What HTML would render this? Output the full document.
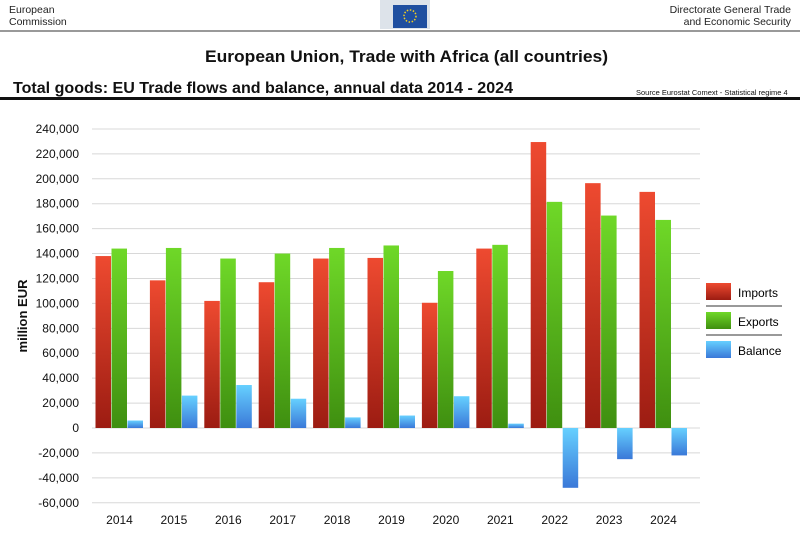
<!DOCTYPE html><html><head><style>body{margin:0;background:#fff;width:800px;height:531px;overflow:hidden;font-family:"Liberation Sans",sans-serif}</style></head><body>
<svg width="800" height="531" xmlns="http://www.w3.org/2000/svg" font-family="Liberation Sans, sans-serif">
<defs>
<linearGradient id="r" x1="0" y1="0" x2="0" y2="1"><stop offset="0" stop-color="#ee4a30"/><stop offset="1" stop-color="#9c1c12"/></linearGradient>
<linearGradient id="g" x1="0" y1="0" x2="0" y2="1"><stop offset="0" stop-color="#6fd828"/><stop offset="1" stop-color="#3f8f10"/></linearGradient>
<linearGradient id="b" x1="0" y1="0" x2="0" y2="1"><stop offset="0" stop-color="#66d0ff"/><stop offset="1" stop-color="#3a78d8"/></linearGradient>
</defs>
<text x="9" y="13" font-size="10.5" fill="#222">European</text>
<text x="9" y="25" font-size="10.5" fill="#222">Commission</text>
<text x="791" y="13" font-size="10.5" fill="#222" text-anchor="end">Directorate General Trade</text>
<text x="791" y="25" font-size="10.5" fill="#222" text-anchor="end">and Economic Security</text>
<rect x="380" y="0" width="50" height="29" fill="#dde3ea"/>
<rect x="393" y="5" width="34" height="23" fill="#1f4fa0"/>
<circle cx="410" cy="16" r="6" fill="none" stroke="#f5d020" stroke-width="1.5" stroke-dasharray="1.5 1.6"/>
<line x1="0" y1="31" x2="800" y2="31" stroke="#333" stroke-width="1"/>
<text x="205" y="62" font-size="17" font-weight="bold" fill="#111" textLength="403" lengthAdjust="spacingAndGlyphs">European Union, Trade with Africa (all countries)</text>
<text x="13" y="93" font-size="16" font-weight="bold" fill="#111" textLength="500" lengthAdjust="spacingAndGlyphs">Total goods: EU Trade flows and balance, annual data 2014 - 2024</text>
<text x="636" y="95" font-size="7.5" fill="#111">Source Eurostat Comext  - Statistical regime 4</text>
<rect x="0" y="97" width="800" height="3" fill="#111"/>
<g id="grid" stroke="#d8d8d8" stroke-width="1"></g>
<g id="bars"></g>
<g id="lab" font-size="12" fill="#111"></g>
<text transform="translate(27,316) rotate(-90)" font-size="13" font-weight="bold" text-anchor="middle" fill="#111">million EUR</text>
<rect x="706" y="283" width="25" height="17" fill="url(#r)"/><text x="738" y="297" font-size="12">Imports</text>
<line x1="706" y1="306" x2="782" y2="306" stroke="#333"/>
<rect x="706" y="312" width="25" height="17" fill="url(#g)"/><text x="738" y="326" font-size="12">Exports</text>
<line x1="706" y1="335" x2="782" y2="335" stroke="#333"/>
<rect x="706" y="341" width="25" height="17" fill="url(#b)"/><text x="738" y="355" font-size="12">Balance</text>
</svg>
<script>
const ns="http://www.w3.org/2000/svg";
const Y=v=>428-v/20000*24.92;
const grid=document.getElementById('grid'),lab=document.getElementById('lab'),bars=document.getElementById('bars');
function el(p,t,a,tx){const e=document.createElementNS(ns,t);for(const k in a)e.setAttribute(k,a[k]);if(tx)e.textContent=tx;p.appendChild(e);return e;}
for(let v=-60000;v<=240000;v+=20000){const y=Y(v);el(grid,'line',{x1:92,x2:700,y1:y,y2:y});
el(lab,'text',{x:79,y:y+4,'text-anchor':'end'},v.toLocaleString('en-US'));}
const d=[[138,144,6],[118.5,144.5,26],[102,136,34.5],[117,140,23.5],[136,144.5,8.5],[136.5,146.5,10],[100.5,126,25.5],[144,147,3.5],[229.5,181.5,-48],[196.5,170.5,-25],[189.5,167,-22]];
const f=['url(#r)','url(#g)','url(#b)'];
d.forEach((r,i)=>{const cx=119.5+i*54.4;r.forEach((v,j)=>{const x=cx-24+j*16;const val=v*1000;const y1=Y(Math.max(val,0)),y2=Y(Math.min(val,0));
el(bars,'rect',{x:x,y:y1,width:15.5,height:y2-y1,fill:f[j]});});
el(lab,'text',{x:cx,y:524,'text-anchor':'middle'},String(2014+i));});
</script>
</body></html>
